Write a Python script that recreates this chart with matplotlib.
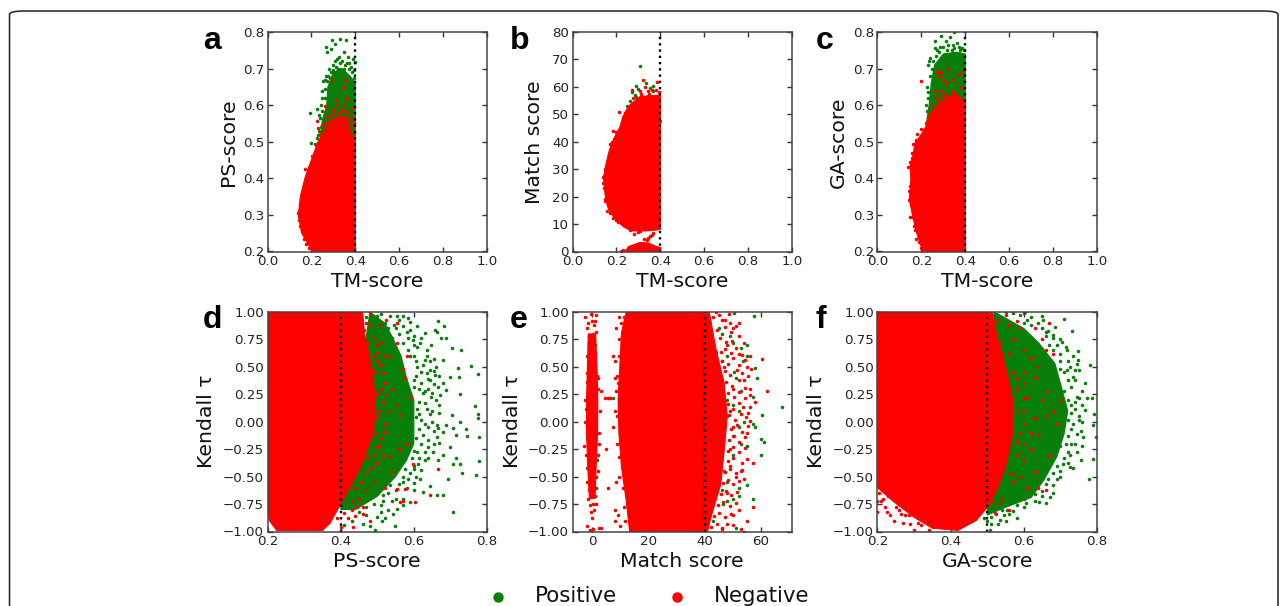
import matplotlib
matplotlib.use('Agg')
import matplotlib.pyplot as plt
from matplotlib.lines import Line2D
from matplotlib.patches import FancyBboxPatch

GREEN = '#087f08'
RED = '#ff0000'

# outlines of the solid parts of each cloud
a_neg_area = [(.205, .2), (.156, .25), (.14, .3), (.15, .35), (.17, .4), (.2, .45), (.23, .5), (.27, .54), (.31, .565), (.36, .57), (.375, .53), (.4, .5), (.4, .2)]
a_pos_area = [(.24, .5), (.25, .56), (.27, .6), (.275, .65), (.3, .69), (.34, .7), (.375, .68), (.4, .66), (.4, .48)]
b_neg_area = [(.27, 7.5), (.232, 9), (.186, 12.8), (.159, 16.4), (.148, 21), (.141, 27), (.153, 32), (.168, 37), (.194, 42), (.217, 45.6), (.229, 49), (.255, 53), (.308, 56.5), (.4, 57), (.4, 8), (.338, 7.5)]
b_low_area = [(.24, 0), (.255, 1.8), (.308, 3.3), (.345, 3.1), (.383, 1.8), (.4, 1.5), (.4, 0)]
c_neg_area = [(.206, .2), (.179, .25), (.164, .287), (.145, .341), (.152, .396), (.149, .433), (.164, .469), (.17, .496), (.194, .515), (.221, .542), (.232, .569), (.27, .597), (.315, .62), (.36, .631), (.4, .606), (.4, .2)]
c_pos_area = [(.221, .54), (.235, .6), (.245, .66), (.26, .71), (.3, .74), (.36, .745), (.4, .74), (.4, .55)]
d_neg_area = [(.2, 1), (.46, 1), (.465, .8), (.485, .5), (.495, .2), (.49, -.1), (.455, -.41), (.42, -.63), (.395, -.78), (.37, -.93), (.35, -.99), (.225, -.99), (.205, -.9), (.2, -.8)]
d_pos_area = [(.48, 1), (.52, .9), (.54, .78), (.565, .6), (.58, .4), (.6, .2), (.6, 0), (.6, -.2), (.58, -.35), (.55, -.5), (.5, -.68), (.44, -.8), (.4, -.8)]
e_neg_area = [(12.1, 1), (10.4, .81), (9.8, .5), (9.2, .2), (9.5, -.11), (10.4, -.41), (12.1, -.72), (13.3, -1), (41, -1), (42.2, -.87), (45.7, -.57), (46.9, -.26), (48, .05), (46.9, .35), (44, .66), (41.6, 1)]
e_low_area = [(-1.4, .8), (-1.7, .5), (-2, .2), (-2, -.1), (-1.6, -.4), (-1, -.7), (1, -.7), (1.4, -.4), (1.9, -.1), (2, .2), (1.7, .5), (1.2, .8)]
f_neg_area = [(.2, 1), (.515, 1), (.525, .8), (.55, .5), (.57, .2), (.57, -.1), (.55, -.41), (.525, -.63), (.5, -.78), (.47, -.9), (.42, -.99), (.35, -.97), (.3, -.87), (.245, -.73), (.2, -.6)]
f_pos_area = [(.52, 1), (.6, .85), (.64, .72), (.685, .53), (.7, .35), (.72, .1), (.71, -.11), (.69, -.32), (.655, -.53), (.62, -.69), (.55, -.78), (.5, -.85)]

# single points that can be told apart
a_pos = [(.292, .779), (.332, .781), (.356, .777), (.309, .768), (.265, .758), (.288, .753), (.27, .744), (.347, .746), (.367, .733), (.326, .731), (.308, .722), (.39, .727), (.397, .717), (.36, .715), (.267, .68), (.255, .665), (.194, .578), (.226, .589), (.236, .574), (.2, .496), (.215, .494), (.232, .519), (.28, .7), (.3, .71), (.33, .715), (.35, .7), (.38, .705), (.27, .665), (.26, .645), (.25, .64), (.245, .6), (.24, .565), (.225, .51), (.23, .47), (.24, .48), (.29, .69), (.32, .7), (.385, .69),
         (.315, .725), (.34, .72), (.3, .695), (.355, .71), (.372, .7), (.392, .695), (.285, .675), (.31, .705), (.275, .68), (.263, .62), (.25, .585), (.243, .54), (.235, .53), (.238, .505), (.25, .62), (.262, .67), (.372, .715), (.33, .7), (.395, .675), (.245, .515)]
a_neg = [(.295, .668), (.353, .668), (.345, .647), (.264, .598), (.31, .615), (.35, .603), (.39, .592), (.3, .587), (.323, .578), (.224, .557), (.229, .537), (.173, .425), (.182, .412), (.215, .47), (.2, .44), (.19, .43), (.27, .57), (.29, .56), (.34, .59), (.365, .58), (.38, .565), (.395, .55), (.31, .6), (.36, .62), (.25, .545), (.165, .38), (.155, .36), (.143, .31), (.15, .27), (.165, .235), (.375, .56),
         (.385, .54), (.395, .525), (.28, .555), (.3, .575), (.33, .58), (.35, .585), (.26, .55), (.24, .52), (.22, .49), (.205, .46), (.185, .42), (.16, .37), (.147, .33), (.137, .305), (.145, .285), (.155, .26), (.175, .22), (.19, .21), (.205, .205), (.16, .345), (.175, .395)]
b_pos = [(.308, 67.5), (.291, 60.4), (.335, 61.4), (.365, 60.5), (.353, 59.6), (.3, 59.2), (.27, 58), (.285, 57), (.365, 58.4), (.247, 52.9), (.265, 53.1), (.274, 54.1), (.288, 56.3), (.345, 54.5), (.398, 47.4), (.194, 38.3), (.26, 55), (.28, 52.5)]
b_neg = [(.32, 62.6), (.386, 61.8), (.27, 59), (.342, 58.4), (.308, 58.4), (.212, 50.7), (.235, 49.5), (.186, 43.8), (.159, 14.6), (.183, 12.2), (.209, 10.9), (.239, 9.7), (.26, 8), (.308, 7.3), (.338, 4.3), (.353, 5.5), (.36, 6.1), (.327, 4.5), (.345, 4.9), (.368, 6.9), (.38, 59), (.36, 59), (.33, 60), (.25, 51), (.225, 46), (.2, 43.5), (.18, 40), (.165, 35), (.15, 30), (.14, 25), (.148, 19), (.28, 6.5), (.3, 7), (.23, .5), (.22, .2),
         (.205, 43), (.19, 41), (.172, 39), (.16, 33), (.147, 28), (.137, 27), (.143, 23), (.15, 18.5), (.165, 16), (.172, 14), (.2, 11.5), (.22, 10.5), (.25, 9), (.35, 57.5), (.31, 57.5), (.395, 58), (.345, 56.5), (.29, 55), (.275, 56), (.24, 50.5)]
c_pos = [(.29, .79), (.35, .8), (.33, .785), (.26, .775), (.31, .775), (.32, .765), (.345, .765), (.285, .76), (.36, .77), (.385, .755), (.395, .75), (.235, .72), (.23, .71), (.22, .6), (.225, .585), (.23, .57), (.24, .73), (.27, .75), (.3, .76), (.37, .76), (.25, .7), (.24, .68), (.225, .65),
         (.255, .72), (.265, .735), (.28, .745), (.315, .75), (.34, .752), (.375, .75), (.25, .66), (.232, .635), (.228, .62), (.222, .55), (.26, .755), (.35, .755)]
c_neg = [(.2, .666), (.29, .69), (.28, .68), (.32, .7), (.395, .695), (.37, .685), (.3, .67), (.345, .67), (.26, .64), (.29, .64), (.34, .64), (.38, .65), (.27, .62), (.31, .63), (.25, .6), (.39, .615), (.31, .66), (.27, .69), (.175, .505), (.16, .495), (.18, .52), (.2, .535), (.145, .34), (.15, .295), (.17, .26), (.175, .235), (.19, .225), (.21, .22), (.14, .43), (.155, .47), (.16, .31),
         (.15, .38), (.145, .365), (.148, .445), (.158, .455), (.155, .295), (.165, .27), (.19, .24), (.2, .21), (.21, .205), (.23, .565), (.245, .58), (.28, .61), (.3, .625), (.345, .635)]
d_pos = [(.585, .945), (.553, .96), (.571, .96), (.589, .905), (.666, .915), (.657, .84), (.683, .875), (.609, .87), (.63, .81), (.689, .76), (.662, .82), (.675, .76), (.648, .7), (.705, .67), (.73, .655), (.616, .715), (.598, .745), (.636, .655), (.654, .57), (.679, .565), (.755, .51), (.721, .487), (.775, .435), (.723, .41), (.698, .405), (.68, .35), (.657, .426), (.643, .472), (.689, .29), (.725, .25), (.671, .243), (.648, .227), (.625, .258), (.766, .142), (.703, .06), (.775, .069), (.775, .03), (.725, 0), (.662, -.03), (.689, -.03), (.707, -.053), (.742, -.063), (.745, -.13), (.777, -.14), (.714, -.124), (.68, -.093), (.662, -.14), (.639, -.23), (.698, -.23), (.653, -.276), (.68, -.307), (.716, -.328), (.727, -.383), (.778, -.359), (.707, -.383), (.733, -.469), (.769, -.484), (.63, -.353), (.612, -.383), (.666, -.353), (.616, -.52), (.644, -.582), (.694, -.52), (.625, -.643), (.68, -.667), (.662, -.667), (.707, -.823), (.548, -.948), (.512, -.902), (.553, -.795), (.589, -.734), (.544, -.84), (.498, -.87), (.462, -.93), (.494, -.99), (.516, -.718),
         (.44, .98), (.455, .9), (.47, .95), (.49, .87), (.46, .8), (.48, .74), (.5, .8), (.49, .68), (.51, .64), (.47, .62), (.485, .52), (.505, .5), (.5, .4), (.49, .3), (.495, .15), (.48, .08), (.495, -.04), (.49, -.2), (.48, -.32), (.49, -.45), (.47, -.52), (.45, -.58), (.48, -.6), (.44, -.65), (.46, -.7), (.42, -.75), (.4, -.76), (.43, -.9), (.41, -.94), (.52, .9), (.5, .96), (.53, .85), (.54, .76),
         (.6, .6), (.61, .5), (.62, .45), (.6, .38), (.62, .35), (.64, .3), (.615, .18), (.635, .12), (.65, .1), (.62, .02), (.64, -.05), (.625, -.12), (.61, -.28), (.6, -.4), (.57, -.55), (.59, -.47), (.55, -.62), (.53, -.65), (.51, -.76), (.57, .72), (.55, .85), (.58, .82), (.6, .7), (.585, .65), (.63, .56), (.66, .5), (.64, .39), (.655, .34), (.67, .15), (.65, .0), (.655, -.08), (.67, -.19), (.63, -.28), (.6, -.56), (.57, -.7), (.53, -.8),
         (.56, .93), (.535, .96), (.51, .98), (.545, .88), (.57, .87), (.59, .84), (.56, .8), (.6, .78), (.62, .76), (.585, .76), (.61, .68), (.59, .6), (.635, .6), (.645, .55), (.605, .55), (.625, .52), (.655, .46), (.635, .44), (.67, .42), (.605, .42), (.645, .38), (.665, .32), (.6, .32), (.63, .28), (.65, .26), (.615, .3), (.66, .2), (.63, .17), (.61, .12), (.645, .07), (.67, .08), (.615, .07), (.605, .04), (.63, -.02), (.665, -.06), (.615, -.07), (.605, -.15), (.64, -.17), (.655, -.2), (.62, -.2), (.6, -.27), (.64, -.33), (.615, -.33), (.595, -.33), (.6, -.43), (.575, -.43), (.62, -.44), (.57, -.5), (.585, -.52), (.605, -.5), (.56, -.57), (.58, -.6), (.6, -.62), (.535, -.58), (.515, -.67), (.54, -.72), (.57, -.76), (.55, -.7), (.49, -.75), (.51, -.82), (.47, -.85), (.52, -.88), (.48, -.95), (.45, -.82), (.47, -.78)]
d_neg = [(.666, -.429), (.644, -.667), (.603, -.734), (.571, -.718), (.562, -.728), (.553, -.612), (.575, -.612), (.598, -.383), (.58, -.2), (.589, .212), (.575, .395), (.553, .715), (.553, .9), (.525, .93), (.507, .885), (.512, .73), (.498, .625), (.534, .594), (.516, .44), (.525, .243), (.562, .06), (.52, -.093), (.498, -.23), (.534, -.322), (.471, -.322), (.462, -.84), (.444, -.78), (.48, -.902), (.435, -.96),
         (.5, .55), (.51, .3), (.505, .1), (.51, -.15), (.5, .7), (.52, .6), (.47, .9), (.48, .98), (.49, .76), (.52, .35), (.53, .1), (.515, -.3), (.49, -.55), (.47, -.62), (.45, -.7), (.43, -.8), (.42, -.88), (.4, -.96), (.54, .3), (.55, .15), (.56, -.25), (.57, .48), (.58, .6), (.54, -.45), (.52, -.6), (.46, -.78), (.44, -.86),
         (.495, .45), (.5, .25), (.498, .05), (.497, -.1), (.492, -.3), (.505, -.22), (.482, -.42), (.47, -.47), (.455, -.55), (.44, -.6), (.48, .88), (.465, .84), (.475, .72), (.49, .6), (.51, .52), (.515, .18), (.52, -.02), (.5, -.38), (.43, -.72), (.41, -.83), (.39, -.88)]
e_pos = [(1.1, .7), (1.6, -.35), (7.4, .22), (50.5, .99), (57.5, .96), (45, .85), (46, .8), (49, .78), (50, .72), (53, .67), (55, .7), (53.5, .55), (55, .6), (44, .64), (48, .6), (46, .55), (50.5, .45), (51, .4), (58, .49), (58.5, .4), (53, .28), (57, .23), (60.5, .06), (67.5, .13), (48, .2), (50, .15), (52, .1), (54, .0), (57, -.02), (58, -.05), (48, .05), (52, -.05), (50, -.13), (53, -.2), (55, -.22), (60, -.16), (61, -.18), (60, -.3), (50, -.3), (47, -.45), (48, -.55), (46, -.62), (52, -.6), (55, -.58), (57, -.7), (50, -.7), (48, -.72), (46.5, -.75), (52, -.68), (43, -.9), (51, -.97), (54, -1)]
e_neg = [(62, .28), (60.5, .57), (56, .6), (58, .18), (56, .3), (52, .9), (49, .9), (55, .5), (56.5, .48), (54, .38), (56, .13), (55, -.1), (57, -.38), (53, -.45), (51, -.5), (57, -.78), (55, -.9), (52, -.8), (48, -.93), (53, -.98), (46, -.98), (44, 1), (46, .93), (50, .85), (48, .7), (52, .62), (47, .5), (50, .3), (49, .1), (50, -.05), (49, -.25), (49, -.4), (48, -.65), (50, -.85),
         (3.2, .28), (4.5, .22), (5.5, .22), (6.5, .22), (8, .4), (7.5, .6), (8, .55), (8.2, .1), (7.5, -.05), (5, -.25), (5.5, -.6), (8.5, -.55), (8, -.8), (8, -.9), (10, -.95), (9, -.85), (3, -.97), (9.5, .95), (8.5, .85), (9.5, .75), (9.2, .35),
         (-2.5, .95), (-.5, .98), (1.5, .97), (-1.5, .9), (.5, .88), (-2, .85), (1.5, .82), (-1, .78), (.8, .75), (-.5, .68), (1, .62), (-1.8, .6), (2.2, .3), (-2.7, .2), (-3, -.22), (2.4, -.1), (2.6, .1), (2.5, -.2), (-2.2, -.3), (-2.4, .0), (2, -.45), (-2, -.55), (1.5, -.6), (-1.5, -.7), (1.3, -.75), (-.5, -.82), (.8, -.8), (-.2, -.88), (-1.8, -.95), (.2, -.98), (-.7, -.99), (2.5, -.97),
         (-1.3, .72), (.2, .8), (1.1, .92), (-.2, .92), (-1.7, .44), (1.6, .42), (-2, .36), (2, .4), (-2.3, .12), (1.9, -.3), (-1.9, -.15), (-1.7, -.42), (1.5, -.5), (-1.2, -.62), (1, -.68), (-.8, -.76), (.3, -.75),
         (43, .95), (45.2, .97), (47.3, .93), (48.6, .98), (44.2, .84), (47.2, .86), (49.4, .82), (51.2, .87), (45.3, .76), (47.4, .73), (49.7, .74), (52.2, .78), (54.1, .72), (45.6, .64), (47.1, .66), (49.3, .63), (51, .67), (53.2, .61), (46.2, .55), (48.3, .53), (50.2, .58), (52.1, .52), (54.3, .56), (47.2, .46), (49.1, .43), (51.3, .47), (53.1, .44), (55.2, .42), (47.6, .36), (49.6, .33), (52.1, .38), (54.2, .31), (48.1, .26), (50.3, .23), (52.2, .27), (54.4, .22), (56.1, .24), (48.2, .16), (50.1, .12), (52.3, .17), (53.6, .13), (55.2, .08), (48.6, .06), (50.6, .02), (52.7, .07), (54.6, .04), (56.2, .01), (49.2, -.07), (51.3, -.03), (53.2, -.09), (55.3, -.04), (48.7, -.17), (50.4, -.13), (52.1, -.18), (54.3, -.14), (48.2, -.27), (50.1, -.23), (52.3, -.28), (54.2, -.24), (48.1, -.36), (50.2, -.33), (53.1, -.38), (55.1, -.34), (47.2, -.46), (49.1, -.43), (51.2, -.47), (53.3, -.44), (46.6, -.56), (48.4, -.53), (50.1, -.57), (52.2, -.54), (54.1, -.52), (45.7, -.66), (47.6, -.63), (49.2, -.67), (51.6, -.64), (44.6, -.76), (46.6, -.73), (49.1, -.77), (51.2, -.74), (43.2, -.86), (45.1, -.83), (47.2, -.87), (49.3, -.84), (42.1, -.96), (44.2, -.93), (46.3, -.97), (50.1, -.94),
         (10.2, .9), (9.6, .6), (8.9, .42), (8.6, .28), (8.7, .05), (8.9, -.2), (9.4, -.32), (9.7, -.5), (10.8, -.6), (11.4, -.78), (11.8, -.9), (11.2, .95)]
f_pos = [(.71, .936), (.603, .997), (.653, .924), (.685, .86), (.666, .83), (.732, .824), (.68, .793), (.703, .725), (.748, .646), (.719, .655), (.748, .563), (.78, .518), (.744, .527), (.719, .472), (.739, .472), (.735, .41), (.767, .35), (.773, .218), (.785, .218), (.745, .227), (.768, .105), (.791, .075), (.79, -.026), (.762, -.14), (.796, -.14), (.744, -.108), (.789, -.337), (.755, -.353), (.725, -.414), (.778, -.52), (.707, -.383), (.666, -.52), (.607, -.74), (.642, -.734), (.671, -.688), (.535, -.896), (.525, -.84), (.507, -.99), (.571, -.81), (.555, -.8),
         (.62, .95), (.64, .9), (.6, .9), (.66, .78), (.69, .7), (.7, .62), (.72, .55), (.71, .45), (.73, .32), (.74, .18), (.75, .05), (.735, -.02), (.73, -.2), (.72, -.28), (.7, -.45), (.68, -.58), (.65, -.63), (.63, -.66), (.22, .98), (.23, .8), (.31, -.88), (.52, .95), (.51, -.93), (.49, -.88),
         (.6, .76), (.63, .68), (.65, .6), (.68, .45), (.72, .2), (.73, .08), (.715, -.2),
         (.7, .75), (.68, .76), (.65, .85), (.62, .88), (.715, .68), (.67, .7), (.735, .6), (.7, .55), (.75, .47), (.725, .5), (.74, .38), (.76, .28), (.72, .38), (.75, .22), (.71, .28), (.73, .15), (.76, .15), (.74, .12), (.75, .02), (.76, .0), (.72, .02), (.73, -.07), (.755, -.08), (.72, -.13), (.74, -.2), (.76, -.22), (.7, -.22), (.725, -.3), (.745, -.28), (.71, -.33), (.69, -.4), (.72, -.38), (.735, -.42), (.7, -.5), (.69, -.52), (.68, -.47), (.66, -.57), (.68, -.65), (.65, -.68), (.66, -.74), (.63, -.72), (.6, -.78), (.58, -.76), (.6, -.7), (.56, -.84), (.58, -.88), (.545, -.85), (.53, -.93), (.54, -.8), (.5, -.9), (.51, -.87), (.55, -.9), (.61, .93), (.65, .96), (.59, .97), (.57, .99), (.55, 1), (.6, .99), (.68, .65), (.7, .48), (.66, .82)]
f_neg = [(.67, .9), (.65, .75), (.62, .58), (.66, .65), (.68, .62), (.64, .5), (.6, .45), (.63, .4), (.58, .3), (.61, .22), (.66, .28), (.7, .2), (.6, .1), (.63, .03), (.66, .05), (.69, -.02), (.64, -.12), (.6, -.02), (.58, -.18), (.62, -.25), (.67, -.3), (.6, -.35), (.63, -.46), (.59, -.5), (.64, -.6), (.57, -.55), (.61, -.6), (.66, -.62), (.59, .85), (.57, .75), (.6, .65), (.58, .92), (.55, .97), (.56, .62), (.57, .45), (.54, -.7), (.56, -.8), (.53, -.75), (.52, -.83), (.68, .1), (.65, .2), (.63, .85),
         (.205, .82), (.21, .7), (.23, .75), (.215, .9), (.24, .77), (.2, -.82), (.21, -.72), (.22, -.78), (.235, -.85), (.25, -.78), (.27, -.92), (.285, -.85), (.29, -.93), (.32, -.94), (.3, -.99), (.34, -.99), (.205, -.65), (.23, -.68), (.26, -.8),
         (.585, .1), (.59, -.1), (.58, .4), (.58, -.3), (.565, -.48), (.54, .62), (.535, .72), (.56, .88), (.53, .93), (.51, -.72), (.6, .35), (.62, -.1), (.6, -.2), (.6, .22), (.215, -.7), (.225, -.82), (.245, -.9), (.265, -.84), (.31, -.92), (.275, -.85), (.2, -.72)]

panels = ['a', 'b', 'c', 'd', 'e', 'f']
x_names = ['TM-score', 'TM-score', 'TM-score', 'PS-score', 'Match score', 'GA-score']
y_names = ['PS-score', 'Match score', 'GA-score', 'Kendall τ', 'Kendall τ', 'Kendall τ']
x_lims = [(0, 1), (0, 1), (0, 1), (.2, .8), (-7, 71), (.2, .8)]
y_lims = [(.2, .8), (0, 80), (.2, .8), (-1, 1), (-1, 1), (-1, 1)]
cutoffs = [.4, .4, .4, .4, 40, .5]
tm_ticks = [0, .2, .4, .6, .8, 1]
score_ticks = [.2, .3, .4, .5, .6, .7, .8]
ps_ticks = [.2, .4, .6, .8]
match_ticks = [0, 20, 40, 60]
tau_ticks = [-1, -.75, -.5, -.25, 0, .25, .5, .75, 1]
x_ticks = [tm_ticks, tm_ticks, tm_ticks, ps_ticks, match_ticks, ps_ticks]
y_ticks = [score_ticks, [0, 10, 20, 30, 40, 50, 60, 70, 80], score_ticks, tau_ticks, tau_ticks, tau_ticks]
x_fmt = ['%.1f', '%.1f', '%.1f', '%.1f', '%d', '%.1f']
y_fmt = ['%.1f', '%d', '%.1f', '%.2f', '%.2f', '%.2f']
pos_areas = [[a_pos_area], [], [c_pos_area], [d_pos_area], [], [f_pos_area]]
neg_areas = [[a_neg_area], [b_neg_area, b_low_area], [c_neg_area], [d_neg_area], [e_neg_area, e_low_area], [f_neg_area]]
pos_points = [a_pos, b_pos, c_pos, d_pos, e_pos, f_pos]
neg_points = [a_neg, b_neg, c_neg, d_neg, e_neg, f_neg]

W, H = 1287, 606
lefts = [267.5, 572.5, 877.5]
tops = [32, 312]
boxw, boxh = 219.5, 219.5
letter_x = [203, 510, 816, 203, 510, 816]
letter_y = [41, 41, 41, 320, 320, 320]
ylabel_x = [228, 535, 838, 207, 512, 817]
DOT = 6.5

fig = plt.figure(figsize=(W / 100, H / 100), dpi=100)

fig.add_artist(FancyBboxPatch((9.5 / W, -.1), (W - 18.5) / W, (H - 11) / H + .1,
                              boxstyle='round,pad=0,rounding_size=0.012', mutation_aspect=H / W,
                              transform=fig.transFigure, fc='none', ec='#222222', lw=1.1))

for i in range(6):
    left = lefts[i % 3]
    top = tops[i // 3]
    ax = fig.add_axes([left / W, 1 - (top + boxh) / H, boxw / W, boxh / H])
    for area in pos_areas[i]:
        ax.fill(*zip(*area), color=GREEN, lw=.8)
    ax.scatter(*zip(*pos_points[i]), s=DOT, c=GREEN, lw=0, zorder=2)
    for area in neg_areas[i]:
        ax.fill(*zip(*area), color=RED, lw=.8, zorder=3)
    ax.scatter(*zip(*neg_points[i]), s=DOT, c=RED, lw=0, zorder=4)
    ax.axvline(cutoffs[i], color='black', ls=':', lw=1.7, zorder=5)
    ax.set_xlim(x_lims[i])
    ax.set_ylim(y_lims[i])
    ax.set_xticks(x_ticks[i])
    ax.set_yticks(y_ticks[i])
    ax.set_xticklabels([x_fmt[i] % v for v in x_ticks[i]])
    ax.set_yticklabels([(y_fmt[i] % v).replace('-', '\u2212') for v in y_ticks[i]])
    ax.tick_params(direction='in', top=True, right=True, length=3.5, width=1, labelsize=9.6,
                   pad=2.5, color='#333333', labelcolor='#222222')
    for s in ax.spines.values():
        s.set_color('#444444')
        s.set_linewidth(1.1)
        s.set_zorder(6)
    ax.set_axisbelow(False)
    ax.set_xlabel(x_names[i], fontsize=14.7, labelpad=3, color='#111111')
    fig.text(ylabel_x[i] / W, 1 - (top + boxh / 2) / H, y_names[i], rotation=90, fontsize=14.7,
             ha='center', va='center', color='#111111')
    fig.text(letter_x[i] / W, 1 - letter_y[i] / H, panels[i], fontsize=23, fontweight='bold',
             family='Liberation Sans', ha='left', va='center', color='black')

fig.add_artist(Line2D([498 / W], [1 - 597 / H], marker='o', ms=6.5, color=GREEN, ls='', transform=fig.transFigure))
fig.add_artist(Line2D([677 / W], [1 - 597 / H], marker='o', ms=6.5, color=RED, ls='', transform=fig.transFigure))
fig.text(535 / W, 1 - 596 / H, 'Positive', fontsize=15.4, ha='left', va='center', color='#111111')
fig.text(714 / W, 1 - 596 / H, 'Negative', fontsize=15.4, ha='left', va='center', color='#111111')

fig.savefig('out.png', dpi=100)
